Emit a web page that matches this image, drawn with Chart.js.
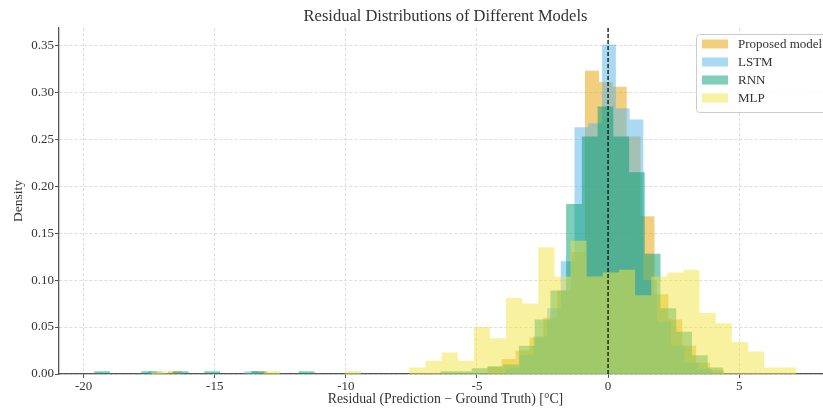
<!DOCTYPE html>
<html>
<head>
<meta charset="utf-8">
<title>Residual Distributions of Different Models</title>
<script src="https://cdn.jsdelivr.net/npm/chart.js@4.4.1/dist/chart.umd.min.js"></script>
<style>
    html, body { margin: 0; padding: 0; background: #fff; overflow: hidden; }
    #wrap { width: 840px; height: 410px; }
</style>
</head>
<body>
<div id="wrap"><canvas id="residualChart" width="840" height="410"></canvas></div>
<script>
// series labels and colours (legend order)
var seriesNames = ['Proposed model', 'LSTM', 'RNN', 'MLP'];
var seriesColors = [
    'rgba(230, 159, 0, 0.5)',
    'rgba(86, 180, 233, 0.5)',
    'rgba(0, 158, 115, 0.5)',
    'rgba(240, 228, 66, 0.5)'
];

// histograms: left edge of first bin, bin width, density of each bin
var proposedStart = -16.78;
var proposedWidth = 0.53;
var proposedDensity = [
    0.003, 0, 0, 0, 0, 0, 0.003, 0, 0, 0,
    0, 0, 0, 0, 0, 0, 0, 0, 0, 0,
    0, 0, 0, 0.008, 0.016, 0.025, 0.039, 0.060, 0.089, 0.130,
    0.323, 0.311, 0.306, 0.253, 0.168, 0.085, 0.058, 0.030, 0.012, 0.004
];

var lstmStart = -17.554;
var lstmWidth = 0.525;
var lstmDensity = [
    0.003, 0, 0, 0, 0, 0, 0, 0.003, 0, 0,
    0, 0, 0, 0, 0, 0, 0, 0, 0, 0,
    0, 0, 0, 0, 0, 0, 0.006, 0.020, 0.040, 0.070,
    0.120, 0.263, 0.267, 0.351, 0.283, 0.271, 0.100, 0.055, 0.030, 0.012,
    0.005
];

var rnnStart = -19.6;
var rnnWidth = 0.6;
var rnnDensity = [
    0.003, 0, 0, 0.003, 0, 0.003, 0, 0.003, 0, 0,
    0.003, 0, 0, 0.003, 0, 0, 0, 0, 0, 0,
    0, 0, 0.003, 0.003, 0.006, 0.008, 0.010, 0.030, 0.058, 0.089,
    0.181, 0.253, 0.285, 0.253, 0.215, 0.128, 0.070, 0.045, 0.020, 0.007
];

var mlpStart = -17.42;
var mlpWidth = 0.615;
var mlpDensity = [
    0.003, 0, 0, 0, 0, 0, 0, 0.003, 0, 0,
    0, 0, 0.003, 0, 0, 0, 0.007, 0.014, 0.023, 0.014,
    0.050, 0.038, 0.081, 0.075, 0.135, 0.104, 0.142, 0.104, 0.108, 0.111,
    0.084, 0.104, 0.108, 0.111, 0.065, 0.054, 0.034, 0.024, 0.007, 0.007
];

var xTicks = [-20, -15, -10, -5, 0, 5];
var yTicks = [0, 0.05, 0.10, 0.15, 0.20, 0.25, 0.30, 0.35];
var zeroResidual = 0;

Chart.defaults.font.family = "'Liberation Serif', 'Times New Roman', serif";
Chart.defaults.color = '#333';

function histPoints(start, width, density) {
    var pts = density.map(function (d, i) {
        return { x: start + i * width, y: d };
    });
    pts.push({ x: start + density.length * width, y: 0 });
    return pts;
}

function histDataset(i, start, width, density) {
    return {
        label: seriesNames[i],
        data: histPoints(start, width, density),
        backgroundColor: seriesColors[i],
        borderColor: 'rgba(0, 0, 0, 0)',
        borderWidth: 0,
        pointRadius: 0,
        stepped: 'before',
        fill: 'origin',
        order: 4 - i
    };
}

// dashed vertical line at residual 0
var zeroLinePlugin = {
    id: 'zeroLine',
    afterDatasetsDraw: function (chart) {
        var ctx = chart.ctx;
        var area = chart.chartArea;
        var x = chart.scales.x.getPixelForValue(zeroResidual);
        ctx.save();
        ctx.strokeStyle = '#111';
        ctx.lineWidth = 1.3;
        ctx.setLineDash([4, 2]);
        ctx.beginPath();
        ctx.moveTo(x, area.bottom);
        ctx.lineTo(x, area.top);
        ctx.stroke();
        ctx.restore();
    }
};

// framed legend in the upper right corner of the plot
var legendBoxPlugin = {
    id: 'legendBox',
    afterDraw: function (chart) {
        var ctx = chart.ctx;
        var area = chart.chartArea;
        var w = 130, h = 78;
        var left = area.right - 6 - w;
        var top = area.top + 6;
        ctx.save();
        ctx.fillStyle = 'rgba(255, 255, 255, 0.85)';
        ctx.strokeStyle = '#cccccc';
        ctx.lineWidth = 1;
        ctx.beginPath();
        if (ctx.roundRect) {
            ctx.roundRect(left + 0.5, top + 0.5, w, h, 3);
        } else {
            ctx.rect(left + 0.5, top + 0.5, w, h);
        }
        ctx.fill();
        ctx.stroke();
        ctx.font = "13px 'Liberation Serif', 'Times New Roman', serif";
        ctx.textBaseline = 'middle';
        for (var i = 0; i < seriesNames.length; i++) {
            var rowY = top + 10 + i * 18;
            ctx.fillStyle = seriesColors[i];
            ctx.fillRect(left + 6, rowY - 4.5, 26, 9);
            ctx.fillStyle = '#333';
            ctx.fillText(seriesNames[i], left + 42, rowY + 0.5);
        }
        ctx.restore();
    }
};

var gridStyle = {
    color: '#d4d4d4',
    lineWidth: 0.8,
    tickColor: '#555',
    tickLength: 4,
    tickWidth: 1,
    tickBorderDash: []
};
var borderStyle = { display: true, color: '#555', width: 1.3, dash: [3, 2] };

new Chart(document.getElementById('residualChart'), {
    type: 'line',
    data: {
        datasets: [
            histDataset(0, proposedStart, proposedWidth, proposedDensity),
            histDataset(1, lstmStart, lstmWidth, lstmDensity),
            histDataset(2, rnnStart, rnnWidth, rnnDensity),
            histDataset(3, mlpStart, mlpWidth, mlpDensity)
        ]
    },
    options: {
        responsive: false,
        animation: false,
        layout: { padding: { top: 0, right: 8, bottom: 0, left: 0 } },
        plugins: {
            legend: { display: false },
            tooltip: { enabled: false },
            title: {
                display: true,
                fullSize: false,
                text: 'Residual Distributions of Different Models',
                color: '#333',
                font: { size: 16.5, weight: 'normal', lineHeight: 1.2 },
                padding: { top: 6.5, bottom: 1.7 }
            }
        },
        scales: {
            x: {
                type: 'linear',
                min: -20.94,
                max: 8.54,
                afterBuildTicks: function (s) {
                    s.ticks = xTicks.map(function (v) { return { value: v }; });
                },
                afterFit: function (s) { s.height = 36; },
                ticks: {
                    font: { size: 13 },
                    color: '#333',
                    padding: 1,
                    maxRotation: 0,
                    callback: function (v) { return String(v); }
                },
                grid: gridStyle,
                border: borderStyle,
                title: {
                    display: true,
                    text: 'Residual (Prediction \u2212 Ground Truth) [\u00b0C]',
                    font: { size: 13.8 },
                    color: '#333',
                    padding: { top: 0, bottom: 2 }
                }
            },
            y: {
                min: 0,
                max: 0.3686,
                afterBuildTicks: function (s) {
                    s.ticks = yTicks.map(function (v) { return { value: v }; });
                },
                afterFit: function (s) { s.width = 59; },
                ticks: {
                    font: { size: 13 },
                    color: '#333',
                    padding: 1,
                    callback: function (v) { return v.toFixed(2); }
                },
                grid: gridStyle,
                border: borderStyle,
                title: {
                    display: true,
                    text: 'Density',
                    font: { size: 13.5 },
                    color: '#333',
                    padding: { top: 10, bottom: 0 }
                }
            }
        }
    },
    plugins: [zeroLinePlugin, legendBoxPlugin]
});
</script>
</body>
</html>
